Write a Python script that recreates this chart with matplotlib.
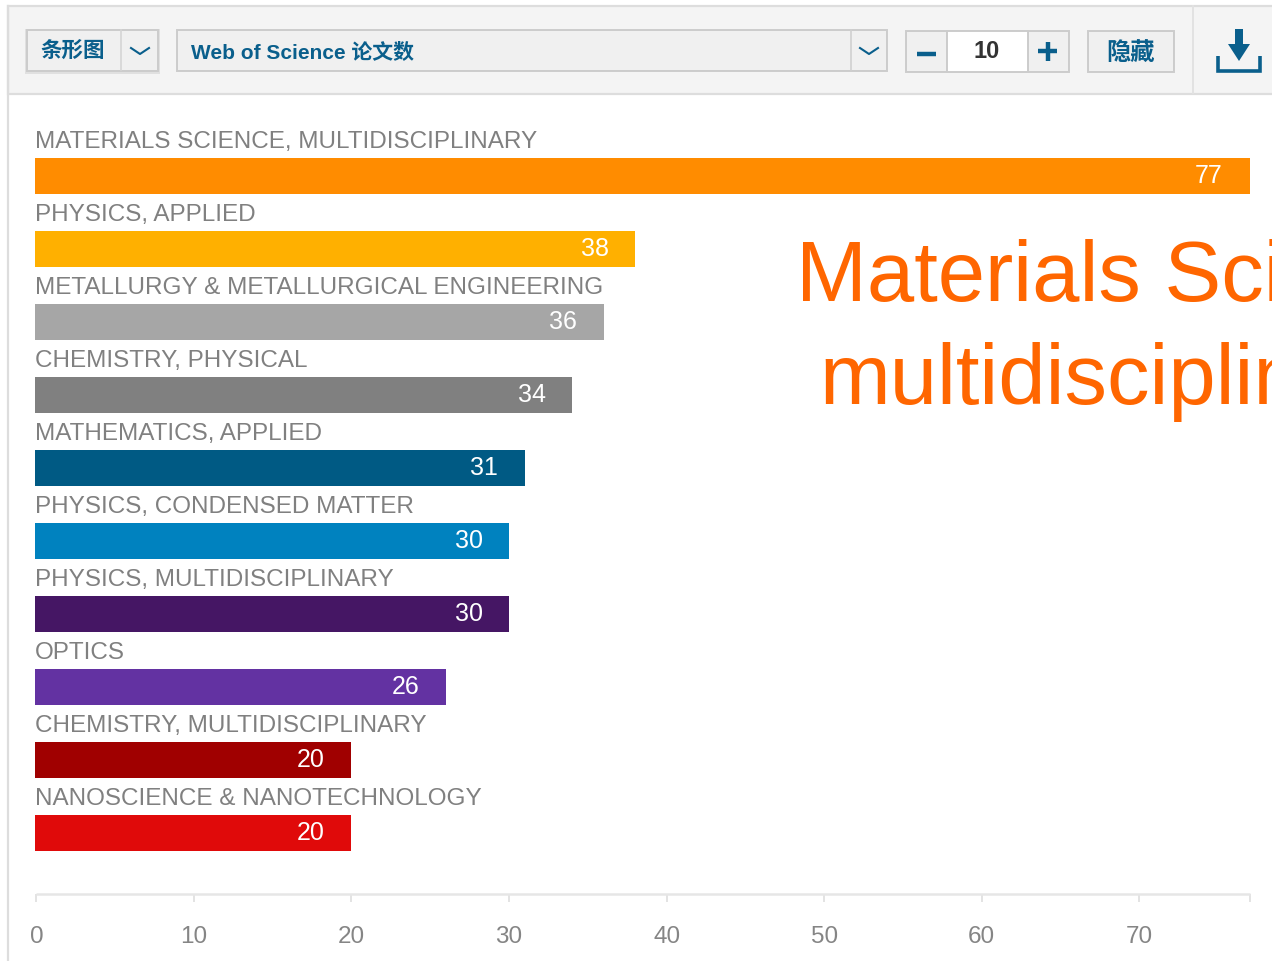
import matplotlib
matplotlib.use("Agg")
import matplotlib.pyplot as plt
from matplotlib.patches import Rectangle, Polygon

W, H = 1272, 962
plt.rcParams['font.family'] = ['Liberation Sans', 'Noto Sans CJK SC', 'DejaVu Sans']

categories = ["MATERIALS SCIENCE, MULTIDISCIPLINARY", "PHYSICS, APPLIED",
              "METALLURGY & METALLURGICAL ENGINEERING", "CHEMISTRY, PHYSICAL",
              "MATHEMATICS, APPLIED", "PHYSICS, CONDENSED MATTER",
              "PHYSICS, MULTIDISCIPLINARY", "OPTICS",
              "CHEMISTRY, MULTIDISCIPLINARY", "NANOSCIENCE & NANOTECHNOLOGY"]
values = [77, 38, 36, 34, 31, 30, 30, 26, 20, 20]
colors = ["#FF8C00", "#FFB000", "#A6A6A6", "#808080", "#005A84",
          "#0082BF", "#451664", "#6332A2", "#A00000", "#E00A0A"]
ticks = [0, 10, 20, 30, 40, 50, 60, 70]
end_tick = [77]
chart_type = "条形图"
metric = "Web of Science 论文数"
count = "10"
hide = "隐藏"
annotation = ["Materials Science,", "multidisciplinary"]

fig = plt.figure(figsize=(W / 100, H / 100), dpi=100, facecolor="white")

# toolbar layer in pixel space
ui = fig.add_axes([0, 0, 1, 1], zorder=0)
ui.set_xlim(0, W); ui.set_ylim(H, 0); ui.axis("off")
BLUE = "#0A5F8C"
ui.add_patch(Rectangle((8, 7), W, 87.5, fc="#F4F4F4", ec="#DDDDDD", lw=1.6))
ui.plot([8, 8], [7, H], color="#DDDDDD", lw=1.6)
ui.plot([1193, 1193], [7, 94], color="#E2E2E2", lw=1.4)

def box(x0, x1, y0=31, y1=72, fc="#F0F0F0", ec="#CCCCCC", lw=1.4):
    ui.add_patch(Rectangle((x0, y0), x1 - x0, y1 - y0, fc=fc, ec=ec, lw=lw))

def chevron(cx, cy):
    ui.plot([cx - 9, cx, cx + 9], [cy - 3, cy + 3, cy - 3], color=BLUE, lw=1.5)

ui.add_patch(Rectangle((25, 30), 135, 45, fc="#D8D8D8", ec="none", alpha=0.7))
box(27, 158)
ui.plot([121, 121], [31, 71], color="#D5D5D5", lw=1.2)
chevron(140, 52)
ui.text(72.5, 52, chart_type, color=BLUE, fontsize=15.5, ha="center", va="center", weight="bold")

box(177, 887)
ui.plot([851, 851], [31, 71], color="#D0D0D0", lw=1.2)
chevron(869, 52)
ui.text(191, 52, metric, color=BLUE, fontsize=15, ha="left", va="center", weight="bold")

box(906, 1069, 32, 73)
box(947, 1028, 32, 73, fc="white")
ui.plot([917, 936], [55, 55], color=BLUE, lw=3.2, solid_capstyle="butt")
ui.plot([1038, 1057], [52, 52], color=BLUE, lw=3.2, solid_capstyle="butt")
ui.plot([1047.5, 1047.5], [43, 62], color=BLUE, lw=3.2, solid_capstyle="butt")
ui.text(987, 52, count, color="#333333", fontsize=17, ha="center", va="center", weight="bold")

box(1088, 1174, 32, 73)
ui.text(1131, 53, hide, color=BLUE, fontsize=17.5, ha="center", va="center", weight="bold")

ui.plot([1218, 1218, 1260, 1260], [57, 72, 72, 57], color=BLUE, lw=2.6,
        solid_joinstyle="miter", solid_capstyle="butt")
ui.add_patch(Polygon([(1235, 30), (1243, 30), (1243, 45), (1250, 45), (1239, 62), (1228, 45), (1235, 45)],
                     fc=BLUE, ec="none"))

# chart
left, right, top, bottom = 36.4, 1249.5, 94, 895
ax = fig.add_axes([left / W, 1 - bottom / H, (right - left) / W, (bottom - top) / H], zorder=1)
ax.patch.set_alpha(0)
y = list(range(len(values)))
bar_overhang = 0.09  # bars start just left of the axis origin in the reference
ax.barh(y, [v + bar_overhang for v in values], left=-bar_overhang, height=36 / 73,
        color=colors, clip_on=False)
ax.set_xlim(0, 77)
center0 = 176.7
ax.set_ylim((895 - center0) / 73, (94 - center0) / 73)
for i, (c, v) in enumerate(zip(categories, values)):
    ax.annotate(c, (0, i), xytext=(-1.2 * 0.72, 35 * 0.72), textcoords="offset points",
                color="#808080", fontsize=17.5, ha="left", va="center")
    ax.annotate(str(v), (v, i), xytext=(-26.5 * 0.72, 0.5), textcoords="offset points",
                color="white", fontsize=18, ha="right", va="center")

for s in ["left", "right", "top"]:
    ax.spines[s].set_visible(False)
ax.spines["bottom"].set_color("#E6E6E6")
ax.spines["bottom"].set_linewidth(1.8)
ax.spines["bottom"].set_capstyle("butt")
ax.set_yticks([])
ax.set_xticks(ticks)
ax.set_xticks(end_tick, minor=True)
ax.tick_params(axis="x", which="both", length=6, width=1.4, color="#E3E3E3", labelcolor="#858585",
               labelsize=17.5, pad=16)

for line, (x, py) in zip(annotation, [(796, 279), (819, 382)]):
    ui.text(x, py, line, color="#FF6600", fontsize=61.2, ha="left", va="center", zorder=5)

fig.savefig("out.png", dpi=100)
